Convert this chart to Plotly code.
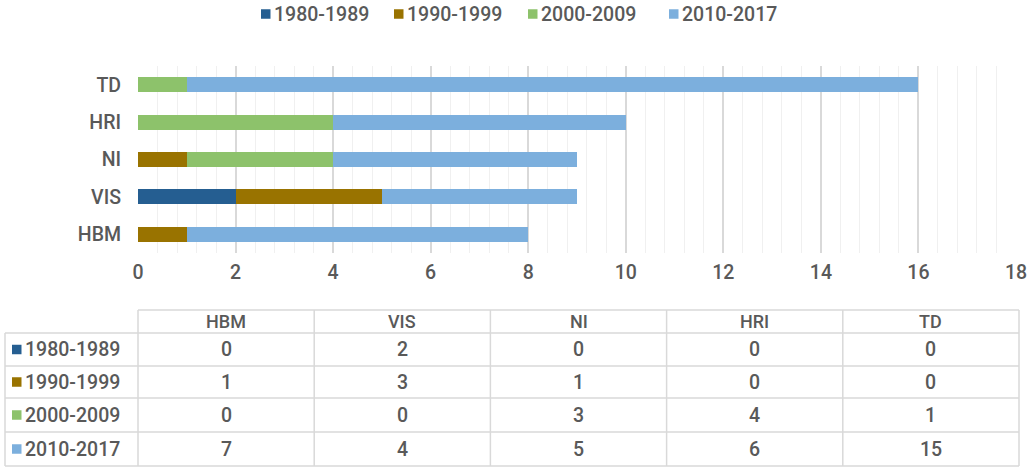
import plotly.graph_objects as go

categories = ["HBM", "VIS", "NI", "HRI", "TD"]
series_names = ["1980-1989", "1990-1999", "2000-2009", "2010-2017"]
v1980 = [0, 2, 0, 0, 0]
v1990 = [1, 3, 1, 0, 0]
v2000 = [0, 0, 3, 4, 1]
v2010 = [7, 4, 5, 6, 15]
series_values = [v1980, v1990, v2000, v2010]
colors = ["#255E91", "#997300", "#8DC26B", "#7CAFDD"]
x_ticks = [0, 2, 4, 6, 8, 10, 12, 14, 16, 18]

W, H = 1031, 470
FONT = "Roboto"
TXT = "#595959"
LINE = "#d9d9d9"
FS = 19.5
FW = 500
SQ = 9.5

def px(x):
    return x / W

def py(y):
    return 1 - y / H

def fnt(size=FS):
    return dict(family=FONT, size=size, color=TXT, weight=FW)

fig = go.Figure()
for name, vals, col in zip(series_names, series_values, colors):
    fig.add_trace(go.Bar(
        y=categories, x=vals, name=name, orientation="h",
        marker=dict(color=col, line=dict(width=0)), width=0.4,
        showlegend=False,
    ))

plot_l, plot_r, plot_t, plot_b = 138, 1016, 66, 253

fig.update_layout(
    template="none",
    width=W, height=H, autosize=False, barmode="stack",
    margin=dict(l=0, r=0, t=0, b=0, pad=0),
    paper_bgcolor="white", plot_bgcolor="white",
    font=fnt(),
    xaxis=dict(
        domain=[px(plot_l), px(plot_r)], range=[0, 18], automargin=False,
        tickvals=x_ticks, ticks="", showline=False, zeroline=False,
        showgrid=True, gridcolor=LINE, gridwidth=1.5,
        minor=dict(dtick=0.4, tick0=0, showgrid=True, gridcolor="#f0f0f0", gridwidth=1, ticks=""),
        tickfont=fnt(), ticklabelstandoff=5,
        fixedrange=True,
    ),
    yaxis=dict(
        domain=[py(plot_b), py(plot_t)], range=[-0.5, 4.5], automargin=False,
        categoryorder="array", categoryarray=categories,
        ticks="", showline=False, showgrid=False, zeroline=False,
        tickfont=fnt(), ticklabelstandoff=16,
        fixedrange=True,
    ),
)

shapes = []

def square(x0, yc, col):
    shapes.append(dict(type="rect", xref="paper", yref="paper",
                       x0=px(x0), x1=px(x0 + SQ), y0=py(yc + SQ / 2), y1=py(yc - SQ / 2),
                       fillcolor=col, line=dict(width=0)))

# legend drawn as a row at the top
leg_x = [261, 394, 528, 669]
leg_y = 14
for name, col, lx in zip(series_names, colors, leg_x):
    square(lx, leg_y, col)
    fig.add_annotation(
        x=px(lx + SQ + 1), y=py(leg_y), xref="paper", yref="paper", xanchor="left", yanchor="middle",
        text=name, showarrow=False, font=fnt(),
    )

# data table below the chart
tbl_l, tbl_r = 138, 1019
lab_l = 5
row_y = [310, 333, 366, 398, 432, 466]
ncol = len(categories)
col_w = (tbl_r - tbl_l) / ncol
col_edges = [tbl_l + i * col_w for i in range(ncol + 1)]

shapes.append(dict(type="line", xref="paper", yref="paper", x0=px(tbl_l), x1=px(tbl_r),
                   y0=py(row_y[0]), y1=py(row_y[0]), line=dict(color=LINE, width=1.5)))
for ry in row_y[1:]:
    shapes.append(dict(type="line", xref="paper", yref="paper", x0=px(lab_l), x1=px(tbl_r),
                       y0=py(ry), y1=py(ry), line=dict(color=LINE, width=1.5)))
shapes.append(dict(type="line", xref="paper", yref="paper", x0=px(lab_l), x1=px(lab_l),
                   y0=py(row_y[1]), y1=py(row_y[-1]), line=dict(color=LINE, width=1.5)))
for cx in col_edges:
    shapes.append(dict(type="line", xref="paper", yref="paper", x0=px(cx), x1=px(cx),
                       y0=py(row_y[0]), y1=py(row_y[-1]), line=dict(color=LINE, width=1.5)))

for i, cat in enumerate(categories):
    cx = (col_edges[i] + col_edges[i + 1]) / 2
    fig.add_annotation(x=px(cx), y=py((row_y[0] + row_y[1]) / 2), xref="paper", yref="paper",
                       text=cat, showarrow=False, xanchor="center", yanchor="middle",
                       font=fnt(18))
for r, (name, vals, col) in enumerate(zip(series_names, series_values, colors)):
    cy = (row_y[r + 1] + row_y[r + 2]) / 2
    square(lab_l + 7, cy, col)
    fig.add_annotation(x=px(lab_l + 7 + SQ + 1), y=py(cy), xref="paper", yref="paper",
                       text=name, showarrow=False,
                       xanchor="left", yanchor="middle", font=fnt())
    for i, v in enumerate(vals):
        cx = (col_edges[i] + col_edges[i + 1]) / 2
        fig.add_annotation(x=px(cx), y=py(cy), xref="paper", yref="paper",
                           text=str(v), showarrow=False, xanchor="center", yanchor="middle",
                           font=fnt())

fig.update_layout(shapes=shapes)

fig.write_html(
    "out.html",
    config={"displayModeBar": False, "responsive": False},
    post_script="document.documentElement.style.overflow='hidden';document.body.style.overflow='hidden';document.body.style.margin='0';document.body.style.padding='0';",
)
